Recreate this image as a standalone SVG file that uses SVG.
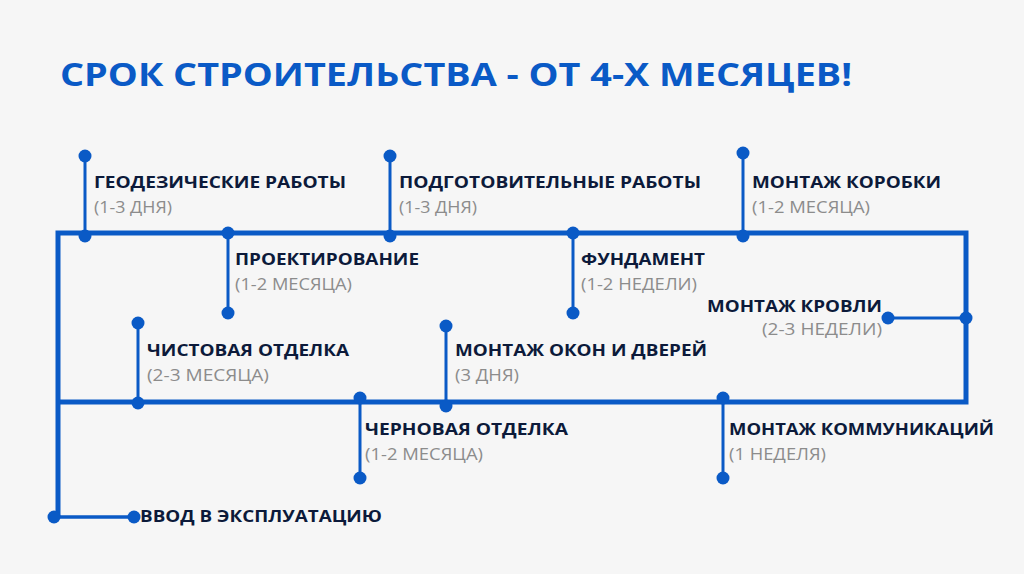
<svg xmlns="http://www.w3.org/2000/svg" width="1024" height="574" viewBox="0 0 1024 574">
<style>
.bg{fill:#f6f6f6}
.main{fill:none;stroke:#0a5ac6;stroke-width:5;stroke-linejoin:miter}
.stem{stroke:#0a5ac6;stroke-width:3}
.dot{fill:#0a5ac6}
.title{font-family:"Open Sans","Liberation Sans",sans-serif;font-weight:700;font-size:32px;fill:#0a5ac6}
.lbl{font-family:"Open Sans","Liberation Sans",sans-serif;font-weight:700;font-size:16.5px;fill:#0c1a3a}
.sub{font-family:"Open Sans","Liberation Sans",sans-serif;font-weight:400;font-size:16.5px;fill:#8c8c8c}
</style>
<rect class="bg" x="0" y="0" width="1024" height="574"/>
<text class="title" x="60" y="86" textLength="792" lengthAdjust="spacingAndGlyphs">СРОК СТРОИТЕЛЬСТВА - ОТ 4-Х МЕСЯЦЕВ!</text>
<g id="connectors">
<path class="main" d="M58 517 V233 H966 V402 H58"/>
<line class="stem" x1="85" y1="156" x2="85" y2="236"/>
<line class="stem" x1="228" y1="233" x2="228" y2="313"/>
<line class="stem" x1="390" y1="156" x2="390" y2="236"/>
<line class="stem" x1="573" y1="233" x2="573" y2="313"/>
<line class="stem" x1="743" y1="153" x2="743" y2="236"/>
<line class="stem" x1="888" y1="318" x2="966" y2="318"/>
<line class="stem" x1="138" y1="323" x2="138" y2="403"/>
<line class="stem" x1="446" y1="326" x2="446" y2="406"/>
<line class="stem" x1="360" y1="398" x2="360" y2="478"/>
<line class="stem" x1="723" y1="398" x2="723" y2="478"/>
<line class="stem" x1="54" y1="517" x2="134" y2="517" style="stroke-width:3.5"/>
</g>
<g id="n-geodesy">
<circle class="dot" cx="85" cy="156" r="6.5"/><circle class="dot" cx="85" cy="236" r="6.5"/>
<text class="lbl" x="94" y="188" textLength="252" lengthAdjust="spacingAndGlyphs">ГЕОДЕЗИЧЕСКИЕ РАБОТЫ</text>
<text class="sub" x="94" y="213" textLength="78" lengthAdjust="spacingAndGlyphs">(1-3 ДНЯ)</text>
</g>
<g id="n-design">
<circle class="dot" cx="228" cy="233" r="6.5"/><circle class="dot" cx="228" cy="313" r="6.5"/>
<text class="lbl" x="235" y="265" textLength="184" lengthAdjust="spacingAndGlyphs">ПРОЕКТИРОВАНИЕ</text>
<text class="sub" x="235" y="290" textLength="117" lengthAdjust="spacingAndGlyphs">(1-2 МЕСЯЦА)</text>
</g>
<g id="n-prep">
<circle class="dot" cx="390" cy="156" r="6.5"/><circle class="dot" cx="390" cy="236" r="6.5"/>
<text class="lbl" x="399" y="188" textLength="302" lengthAdjust="spacingAndGlyphs">ПОДГОТОВИТЕЛЬНЫЕ РАБОТЫ</text>
<text class="sub" x="399" y="213" textLength="78" lengthAdjust="spacingAndGlyphs">(1-3 ДНЯ)</text>
</g>
<g id="n-foundation">
<circle class="dot" cx="573" cy="233" r="6.5"/><circle class="dot" cx="573" cy="313" r="6.5"/>
<text class="lbl" x="581" y="265" textLength="124" lengthAdjust="spacingAndGlyphs">ФУНДАМЕНТ</text>
<text class="sub" x="581" y="290" textLength="116" lengthAdjust="spacingAndGlyphs">(1-2 НЕДЕЛИ)</text>
</g>
<g id="n-box">
<circle class="dot" cx="743" cy="153" r="6.5"/><circle class="dot" cx="743" cy="236" r="6.5"/>
<text class="lbl" x="752" y="188" textLength="189" lengthAdjust="spacingAndGlyphs">МОНТАЖ КОРОБКИ</text>
<text class="sub" x="752" y="213" textLength="118" lengthAdjust="spacingAndGlyphs">(1-2 МЕСЯЦА)</text>
</g>
<g id="n-roof">
<circle class="dot" cx="888" cy="318" r="6.5"/><circle class="dot" cx="966" cy="318" r="6.5"/>
<text class="lbl" x="707" y="312" textLength="175" lengthAdjust="spacingAndGlyphs">МОНТАЖ КРОВЛИ</text>
<text class="sub" x="762" y="335" textLength="120" lengthAdjust="spacingAndGlyphs">(2-3 НЕДЕЛИ)</text>
</g>
<g id="n-finish">
<circle class="dot" cx="138" cy="323" r="6.5"/><circle class="dot" cx="138" cy="403" r="6.5"/>
<text class="lbl" x="147" y="356" textLength="202" lengthAdjust="spacingAndGlyphs">ЧИСТОВАЯ ОТДЕЛКА</text>
<text class="sub" x="147" y="381" textLength="122" lengthAdjust="spacingAndGlyphs">(2-3 МЕСЯЦА)</text>
</g>
<g id="n-windows">
<circle class="dot" cx="446" cy="326" r="6.5"/><circle class="dot" cx="446" cy="406" r="6.5"/>
<text class="lbl" x="455" y="356" textLength="252" lengthAdjust="spacingAndGlyphs">МОНТАЖ ОКОН И ДВЕРЕЙ</text>
<text class="sub" x="455" y="381" textLength="64" lengthAdjust="spacingAndGlyphs">(3 ДНЯ)</text>
</g>
<g id="n-rough">
<circle class="dot" cx="360" cy="398" r="6.5"/><circle class="dot" cx="360" cy="478" r="6.5"/>
<text class="lbl" x="365" y="435" textLength="203" lengthAdjust="spacingAndGlyphs">ЧЕРНОВАЯ ОТДЕЛКА</text>
<text class="sub" x="365" y="460" textLength="118" lengthAdjust="spacingAndGlyphs">(1-2 МЕСЯЦА)</text>
</g>
<g id="n-utilities">
<circle class="dot" cx="723" cy="398" r="6.5"/><circle class="dot" cx="723" cy="478" r="6.5"/>
<text class="lbl" x="729" y="435" textLength="265" lengthAdjust="spacingAndGlyphs">МОНТАЖ КОММУНИКАЦИЙ</text>
<text class="sub" x="729" y="460" textLength="97" lengthAdjust="spacingAndGlyphs">(1 НЕДЕЛЯ)</text>
</g>
<g id="n-commission">
<circle class="dot" cx="54" cy="517" r="6.5"/><circle class="dot" cx="134" cy="517" r="6.5"/>
<text class="lbl" x="140" y="522" textLength="242" lengthAdjust="spacingAndGlyphs">ВВОД В ЭКСПЛУАТАЦИЮ</text>
</g>
</svg>
